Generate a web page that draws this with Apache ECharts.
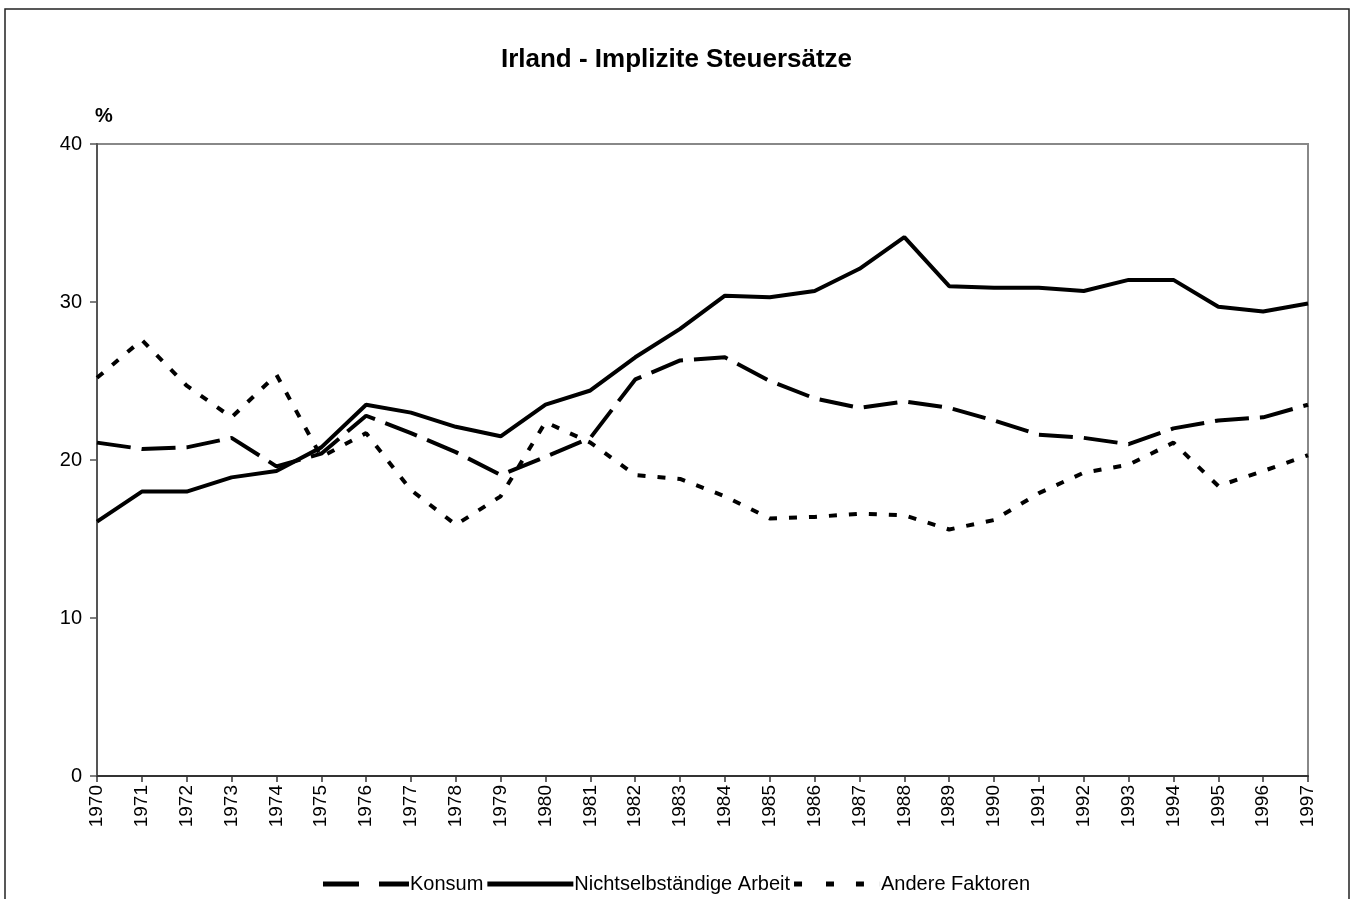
<!DOCTYPE html>
<html>
<head>
<meta charset="utf-8">
<title>Irland - Implizite Steuersätze</title>
<script src="https://cdn.jsdelivr.net/npm/echarts@6/dist/echarts.min.js"></script>
<style>
  html, body { margin: 0; padding: 0; background: #fff; }
  #chart { width: 1353px; height: 899px; }
</style>
</head>
<body>
<div id="chart"></div>
<script>
// Jahre (x-Achse)
const years = ['1970','1971','1972','1973','1974','1975','1976','1977','1978','1979',
  '1980','1981','1982','1983','1984','1985','1986','1987','1988','1989',
  '1990','1991','1992','1993','1994','1995','1996','1997'];

// Werte in %
const konsum = [21.1, 20.7, 20.8, 21.4, 19.6, 20.4, 22.8, 21.7, 20.5, 19.05,
  20.2, 21.4, 25.1, 26.3, 26.5, 25.0, 23.9, 23.3, 23.7, 23.3,
  22.5, 21.6, 21.4, 21.0, 22.0, 22.5, 22.7, 23.5];
const arbeit = [16.1, 18.0, 18.0, 18.9, 19.3, 20.8, 23.5, 23.0, 22.1, 21.5,
  23.5, 24.4, 26.5, 28.3, 30.4, 30.3, 30.7, 32.1, 34.1, 31.0,
  30.9, 30.9, 30.7, 31.4, 31.4, 29.7, 29.4, 29.9];
const andere = [25.2, 27.6, 24.7, 22.7, 25.4, 20.2, 21.7, 18.1, 15.9, 17.7,
  22.4, 21.1, 19.05, 18.8, 17.7, 16.3, 16.4, 16.6, 16.5, 15.6,
  16.2, 17.9, 19.2, 19.7, 21.1, 18.35, 19.3, 20.3];

const seriesNames = ['Konsum', 'Nichtselbständige Arbeit', 'Andere Faktoren'];

// Legendensymbole als Strichmuster (alle 86 breit, 5 hoch)
const legendIcons = [
  'path://M0,0h36v5h-36z M56,0h30v5h-30z',
  'path://M0,0h86v5h-86z',
  'path://M0,0h8v5h-8z M32,0h8v5h-8z M62,0h8v5h-8z M86,0h0.1v5h-0.1z'
];

const chart = echarts.init(document.getElementById('chart'));

const option = {
  backgroundColor: '#fff',
  animation: false,
  textStyle: { fontFamily: 'Liberation Sans, Arial, sans-serif', color: '#000' },
  title: {
    text: 'Irland - Implizite Steuersätze',
    left: 'center',
    top: 42,
    textStyle: { fontSize: 26, fontWeight: 'bold', color: '#000' }
  },
  // äußerer Rahmen
  graphic: [{
    type: 'rect',
    shape: { x: 5, y: 9, width: 1344, height: 900 },
    style: { fill: 'none', stroke: '#222', lineWidth: 1.5 },
    silent: true
  }],
  grid: {
    left: 97, right: 45, top: 144, bottom: 123,
    show: true, borderColor: '#888', borderWidth: 2, backgroundColor: 'transparent'
  },
  legend: {
    data: seriesNames.map((name, i) => ({ name: name, icon: legendIcons[i] })),
    bottom: 0,
    left: 'center',
    itemWidth: 86,
    itemHeight: 5,
    itemGap: 4,
    itemStyle: { color: '#000', borderWidth: 0 },
    textStyle: { fontSize: 20, color: '#000', padding: [0, 0, 0, -4] }
  },
  xAxis: {
    type: 'category',
    data: years,
    boundaryGap: false,
    axisLine: { lineStyle: { color: '#333', width: 2 } },
    axisTick: { show: true, length: 6, lineStyle: { color: '#333', width: 1.5 } },
    axisLabel: { rotate: 90, fontSize: 19, color: '#000', margin: 9, interval: 0 }
  },
  yAxis: {
    type: 'value',
    min: 0,
    max: 40,
    interval: 10,
    name: '%',
    nameLocation: 'end',
    nameGap: 18,
    nameTextStyle: { fontSize: 20, fontWeight: 'bold', color: '#000', padding: [0, 0, 0, 14] },
    axisLine: { show: true, lineStyle: { color: '#555', width: 2 } },
    axisTick: { show: true, length: 7, lineStyle: { color: '#555', width: 1.5 } },
    axisLabel: { fontSize: 20, color: '#000', margin: 15 },
    splitLine: { show: false }
  },
  series: [
    {
      name: seriesNames[0], type: 'line', data: konsum,
      symbol: 'none', z: 3,
      lineStyle: { color: '#000', width: 4, type: [34, 11] },
      itemStyle: { color: '#000' }
    },
    {
      name: seriesNames[1], type: 'line', data: arbeit,
      symbol: 'none', z: 4,
      lineStyle: { color: '#000', width: 4, type: 'solid' },
      itemStyle: { color: '#000' }
    },
    {
      name: seriesNames[2], type: 'line', data: andere,
      symbol: 'none', z: 2,
      lineStyle: { color: '#000', width: 4, type: [8, 12] },
      itemStyle: { color: '#000' }
    }
  ]
};

chart.setOption(option);
</script>
</body>
</html>
